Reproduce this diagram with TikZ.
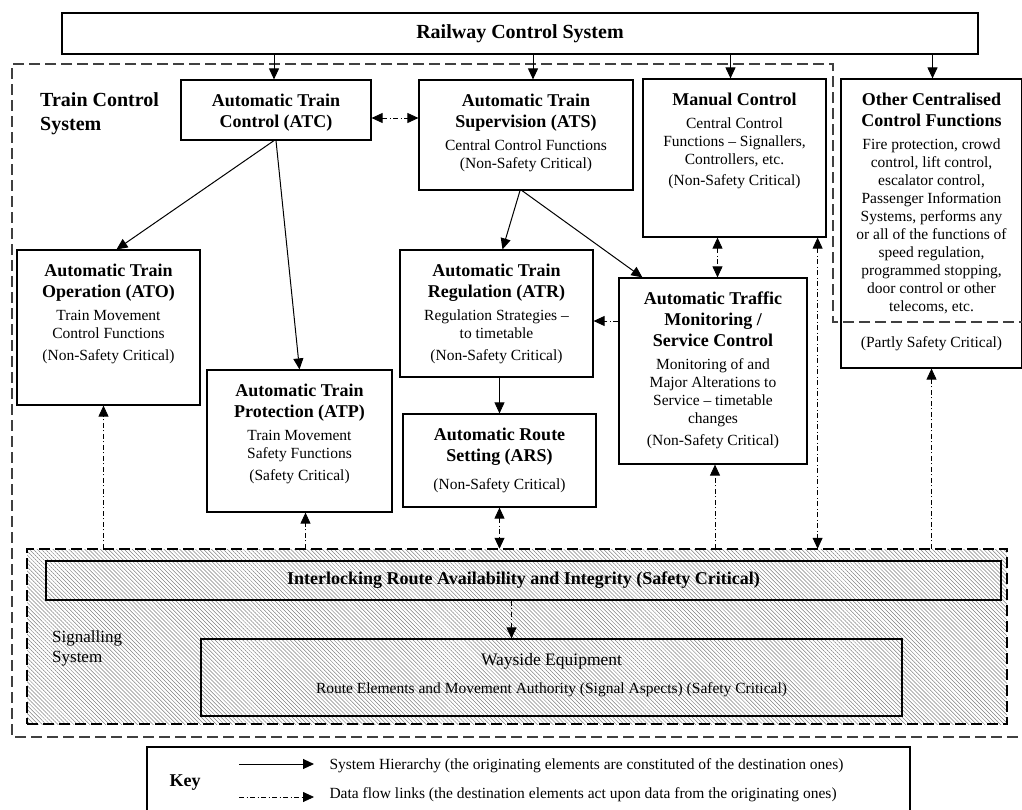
\documentclass[tikz,border=0pt]{standalone}
\usepackage{fontspec}
\setmainfont{Liberation Serif}
\usepackage{tikz}
\usetikzlibrary{arrows.meta, patterns.meta}

\newcommand{\blockbox}[3]{\parbox[c][#2][t]{#1}{\centering #3}}
\newcommand{\boxhead}{\fontsize{18}{21}\selectfont\bfseries\rule{0pt}{26pt}}
\newcommand{\boxbody}{\par\vspace{5pt}\fontsize{15.5}{18}\selectfont\mdseries}

\begin{document}
\begin{tikzpicture}[x=1pt, y=-1pt,
        box/.style={draw, rectangle, line width=1.2pt, inner sep=0pt},
        hier/.style={-{Triangle[length=11pt,width=10pt]}, line width=1pt},
        flow/.style={-{Triangle[length=11pt,width=10pt]}, line width=0.8pt, dash pattern=on 5pt off 2.5pt on 1pt off 2.5pt},
        flowb/.style={flow, {Triangle[length=11pt,width=10pt]}-{Triangle[length=11pt,width=10pt]}},
        bound/.style={line width=1.1pt, black!75, dash pattern=on 11pt off 5pt}]
        \clip (0,0) rectangle (1022,809);

        % Nodes for the control hierarchy
        \node [box, minimum width=916pt, minimum height=41pt, font=\fontsize{20}{24}\selectfont\bfseries] (rcs) at (520,33.5) {Railway Control System};
        \node [box] (atc) at (276,110) {\blockbox{190pt}{60pt}{\boxhead Automatic Train\\Control (ATC)}};
        \node [box] (ats) at (526,135) {\blockbox{214pt}{110pt}{\boxhead Automatic Train\\Supervision (ATS)\boxbody Central Control Functions\\(Non-Safety Critical)}};
        \node [box] (man) at (734.5,158) {\blockbox{183pt}{158pt}{\boxhead Manual Control\boxbody Central Control\\Functions -- Signallers,\\Controllers, etc.\\[3pt](Non-Safety Critical)}};
        \node [box] (oth) at (931.5,223.5) {\blockbox{181pt}{289pt}{\boxhead Other Centralised\\Control Functions\boxbody Fire protection, crowd\\control, lift control,\\escalator control,\\Passenger Information\\Systems, performs any\\or all of the functions of\\speed regulation,\\programmed stopping,\\door control or other\\telecoms, etc.}};
        \node [font=\fontsize{15.5}{18}\selectfont] (partly) at (931.5,344) {(Partly Safety Critical)};
        \node [box] (ato) at (108.5,327.5) {\blockbox{183pt}{155pt}{\boxhead Automatic Train\\Operation (ATO)\boxbody Train Movement\\Control Functions\\[4pt](Non-Safety Critical)}};
        \node [box] (atr) at (496.5,313.5) {\blockbox{193pt}{127pt}{\boxhead Automatic Train\\Regulation (ATR)\boxbody Regulation Strategies --\\to timetable\\[4pt](Non-Safety Critical)}};
        \node [box] (tms) at (713,371) {\blockbox{188pt}{186pt}{\boxhead Automatic Traffic\\Monitoring /\\Service Control\boxbody Monitoring of and\\Major Alterations to\\Service -- timetable\\changes\\[4pt](Non-Safety Critical)}};
        \node [box] (atp) at (299.5,441) {\blockbox{185pt}{142pt}{\boxhead Automatic Train\\Protection (ATP)\boxbody Train Movement\\Safety Functions\\[4pt](Safety Critical)}};
        \node [box] (ars) at (499.5,460.5) {\blockbox{193pt}{93pt}{\boxhead Automatic Route\\Setting (ARS)\boxbody\vspace{5pt}(Non-Safety Critical)}};
        \node [anchor=north west, inner sep=0pt, align=left, font=\fontsize{20}{24}\selectfont\bfseries] (tcs) at (40,92) {Train Control\\System};

        % Nodes for the signalling system
        \node [draw, line width=1.1pt, dash pattern=on 11pt off 5pt, pattern={Lines[angle=-45, distance=2.8pt, line width=0.5pt]}, pattern color=black!50, minimum width=980pt, minimum height=175pt] (sig) at (517,636.5) {};
        \node [anchor=north west, inner sep=0pt, align=left, font=\fontsize{17}{20}\selectfont] (siglabel) at (52,630) {Signalling\\System};
        \node [box, minimum width=955pt, minimum height=39pt, font=\fontsize{18}{21}\selectfont\bfseries] (ilk) at (523.5,580.5) {Interlocking Route Availability and Integrity (Safety Critical)};
        \node [box] (way) at (551.5,677.5) {\blockbox{701pt}{77pt}{\fontsize{17.5}{21}\selectfont\rule{0pt}{26pt}Wayside Equipment\par\vspace{10pt}\fontsize{15.5}{18}\selectfont Route Elements and Movement Authority (Signal Aspects) (Safety Critical)}};

        % Train control boundary
        \draw [bound] (1030,322) -- (833,322) -- (833,64) -- (12,64) -- (12,737) -- (1030,737);

        % Arrows for the hierarchy
        \draw [hier] ([xshift=-2pt]atc.north |- rcs.south) -- ([xshift=-2pt]atc.north);
        \draw [hier] ([xshift=7pt]ats.north |- rcs.south) -- ([xshift=7pt]ats.north);
        \draw [hier] ([xshift=-4pt]man.north |- rcs.south) -- ([xshift=-4pt]man.north);
        \draw [hier] ([xshift=1pt]oth.north |- rcs.south) -- ([xshift=1pt]oth.north);
        \draw [hier] ([xshift=-2pt]atc.south) -- ([xshift=8pt]ato.north);
        \draw [hier] (atc.south) -- (atp.north);
        \draw [hier] ([xshift=-6pt]ats.south) -- ([xshift=6pt]atr.north);
        \draw [hier] ([xshift=-4pt]ats.south) -- ([xshift=24pt]tms.north west);
        \draw [hier, line width=0.7pt] (ars.north |- atr.south) -- (ars.north);

        % Arrows for data flow
        \draw [flowb] ([yshift=-8pt]atc.east) -- ([yshift=-8pt]atc.east -| ats.west);
        \draw [flow] ([yshift=50pt]tms.west) -- ([yshift=50pt]tms.west -| atr.east);
        \draw [flowb] ([xshift=-17pt]man.south) -- ([xshift=-17pt]man.south |- tms.north);
        \draw [flowb] ([xshift=-9pt]man.south east) -- ([xshift=-9pt]man.south east |- sig.north);
        \draw [flow] ([xshift=-5pt]ato.south |- sig.north) -- ([xshift=-5pt]ato.south);
        \draw [flow] ([xshift=6pt]atp.south |- sig.north) -- ([xshift=6pt]atp.south);
        \draw [flowb] (ars.south) -- (ars.south |- sig.north);
        \draw [flow] ([xshift=2pt]tms.south |- sig.north) -- ([xshift=2pt]tms.south);
        \draw [flow] (oth.south |- sig.north) -- (oth.south);
        \draw [flow] ([xshift=-12pt]ilk.south) -- ([xshift=-12pt]ilk.south |- way.north);

        % Key
        \node [box, minimum width=763pt, minimum height=80pt] (key) at (528.5,787) {};
        \node [font=\fontsize{18}{21}\selectfont\bfseries] (keylabel) at (185,783) {Key};
        \coordinate (h1) at (239,764);
        \coordinate (h2) at (314,764);
        \coordinate (d1) at (239,797);
        \coordinate (d2) at (314,797);
        \draw [hier] (h1) -- (h2);
        \draw [flow] (d1) -- (d2);
        \node [anchor=west, font=\fontsize{15.5}{18}\selectfont] (hiertext) at (326,766) {System Hierarchy (the originating elements are constituted of the destination ones)};
        \node [anchor=west, font=\fontsize{15.5}{18}\selectfont] (flowtext) at (326,795) {Data flow links (the destination elements act upon data from the originating ones)};
\end{tikzpicture}
\end{document}
